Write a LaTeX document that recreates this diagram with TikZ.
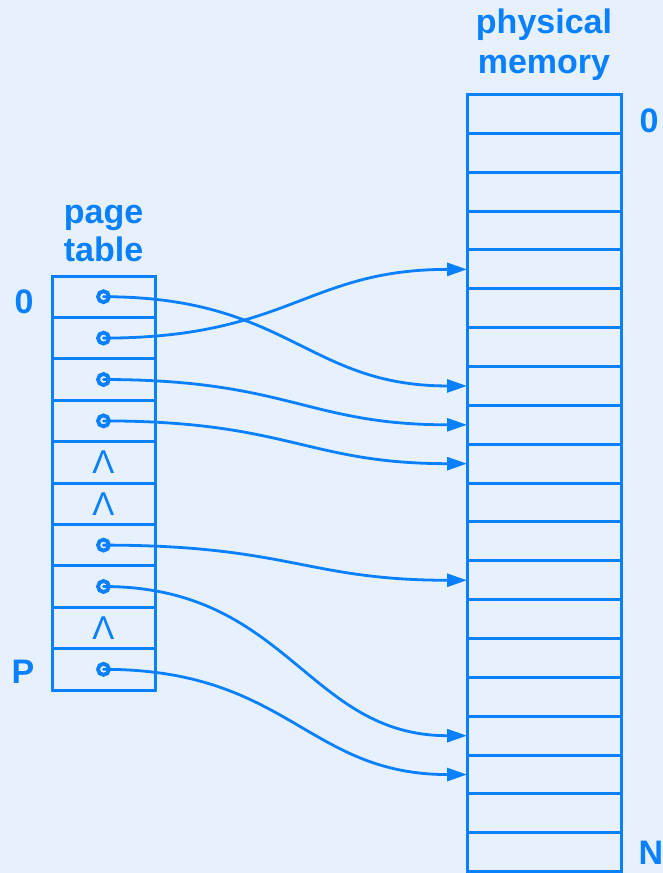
\documentclass[tikz,border=0pt]{standalone}
\usepackage{fontspec}
\setmainfont{Liberation Sans}
\usetikzlibrary{arrows.meta}
\definecolor{ink}{RGB}{8,128,255}
\definecolor{bg}{RGB}{231,241,253}
\begin{document}
\begin{tikzpicture}[x=1pt,y=-1pt,
  ptrow/.style={minimum width=103pt,minimum height=41.4pt,inner sep=0pt,outer sep=0pt},
  memrow/.style={minimum width=154pt,minimum height=38.86pt,inner sep=0pt,outer sep=0pt},
  grid/.style={draw=ink,line width=3pt},
  lbl/.style={text=ink,font=\fontsize{34}{40}\selectfont\bfseries,inner sep=0pt},
  lam/.style={text=ink,font=\fontsize{33}{40}\selectfont,inner sep=0pt},
  ptr/.style={circle,draw=ink,line width=3.8pt,minimum size=11pt,inner sep=0pt,outer sep=0pt},
  conn/.style={draw=ink,line width=2.8pt,-{Triangle[length=20pt,width=13pt]}}]
\fill[bg] (0,0) rectangle (663,873);
\useasboundingbox (0,0) rectangle (663,873);
% memory
\foreach \i in {0,...,19}
  \node[memrow] (m\i) at (544,{94.5+38.86*\i+19.43}) {};
\draw[grid] (m0.north west) rectangle (m19.south east);
\foreach \i in {0,...,18}
  \draw[grid] (m\i.south west) -- (m\i.south east);
% page table
\foreach \i in {0,...,9}
  \node[ptrow] (pt\i) at (103.5,{276+41.4*\i+20.7}) {};
\draw[grid] (pt0.north west) rectangle (pt9.south east);
\foreach \i in {0,...,8}
  \draw[grid] (pt\i.south west) -- (pt\i.south east);
% titles and labels
\node[lbl,anchor=base] (t1) at (544,33) {physical};
\node[lbl,anchor=base] (t2) at (544,73) {memory};
\node[lbl,anchor=base] (t3) at (103.5,223) {page};
\node[lbl,anchor=base] (t4) at (103.5,261) {table};
\node[lbl] (l0) at (24,302) {0};
\node[lbl] (lP) at (23,672) {P};
\node[lbl] (r0) at (649,121) {0};
\node[lbl] (rN) at (651,853) {N};
% null entries
\node[lam] (n4) at (pt4.center) {Λ};
\node[lam] (n5) at (pt5.center) {Λ};
\node[lam] (n8) at (pt8.center) {Λ};
% pointers
\foreach \i in {0,1,2,3,6,7,9} {
  \node[ptr] (d\i) at (pt\i.center) {};
  \fill[ink] (d\i.center) circle (1.4pt);
}
\draw[conn] (d0.center) .. controls +(185,0) and +(-160,0) .. (m7.west);
\draw[conn] (d1.center) .. controls +(185,0) and +(-160,0) .. (m4.west);
\draw[conn] (d2.center) .. controls +(185,0) and +(-160,0) .. (m8.west);
\draw[conn] (d3.center) .. controls +(185,0) and +(-160,0) .. (m9.west);
\draw[conn] (d6.center) .. controls +(185,0) and +(-160,0) .. (m12.west);
\draw[conn] (d7.center) .. controls +(185,0) and +(-160,0) .. (m16.west);
\draw[conn] (d9.center) .. controls +(185,0) and +(-160,0) .. (m17.west);
\end{tikzpicture}
\end{document}
